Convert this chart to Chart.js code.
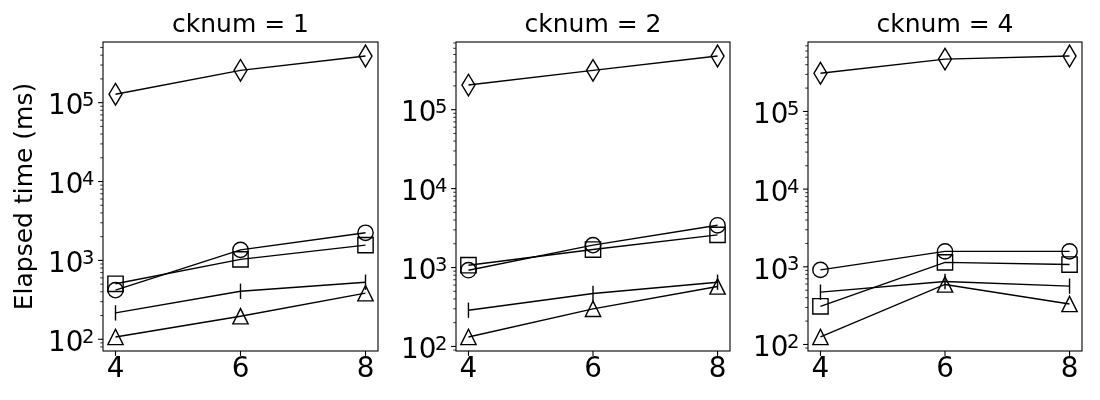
<!DOCTYPE html>
<html>
<head>
<meta charset="utf-8">
<script src="https://cdn.jsdelivr.net/npm/chart.js@4.4.0/dist/chart.umd.min.js"></script>
<style>
  body { margin: 0; background: #fff; }
  #wrap { position: relative; width: 1100px; height: 400px; overflow: hidden; }
  canvas { position: absolute; top: 0; }
</style>
</head>
<body>
<div id="wrap">
  <canvas id="panel0" width="390" height="400" style="left:0px"></canvas>
  <canvas id="panel1" width="350" height="400" style="left:390px"></canvas>
  <canvas id="panel2" width="360" height="400" style="left:740px"></canvas>
</div>
<script>
// Data (one row per panel, values at x = 4, 6, 8)
const panelTitles = ['cknum = 1', 'cknum = 2', 'cknum = 4'];
const xValues = [4, 6, 8];
const diamondSeries = [[128000, 257000, 390000], [205000, 315000, 478000], [310000, 472000, 517000]];
const circleSeries = [[419, 1360, 2240], [925, 1920, 3430], [912, 1580, 1580]];
const squareSeries = [[505, 1030, 1560], [1070, 1690, 2590], [310, 1140, 1070]];
const vlineSeries = [[216, 406, 529], [288, 469, 652], [472, 647, 564]];
const triangleSeries = [[107, 196, 384], [132, 300, 575], [125, 593, 332]];

// Tick labels
const xTickValues = [4, 6, 8];
const yTickValues = [100, 1000, 10000, 100000];
const yTickBase = '10';
const yTickExponents = ['2', '3', '4', '5'];
const yLabel = 'Elapsed time (ms)';

const FONT = "'DejaVu Sans', sans-serif";
Chart.defaults.font.family = FONT;
Chart.defaults.color = '#000';

// width reserved for the y axis and right padding of each canvas
const panelLayout = [
  { axisWidth: 103, padRight: 12 },
  { axisWidth: 66, padRight: 10 },
  { axisWidth: 68, padRight: 18 }
];

// matplotlib-like unfilled markers: thin diamond, circle, square, vline, triangle
const ms = 15.3;
const markerPaths = [
  (g, x, y) => {
    const h = ms * Math.SQRT2 / 2, w = h * 0.6;
    g.moveTo(x, y - h); g.lineTo(x + w, y); g.lineTo(x, y + h); g.lineTo(x - w, y); g.closePath();
  },
  (g, x, y) => { g.moveTo(x + ms / 2, y); g.arc(x, y, ms / 2, 0, Math.PI * 2); },
  (g, x, y) => { g.rect(x - ms / 2, y - ms / 2, ms, ms); },
  (g, x, y) => { g.moveTo(x, y - ms / 2); g.lineTo(x, y + ms / 2); },
  (g, x, y) => {
    g.moveTo(x, y - ms / 2); g.lineTo(x + ms / 2, y + ms / 2); g.lineTo(x - ms / 2, y + ms / 2); g.closePath();
  }
];

const seriesList = [diamondSeries, circleSeries, squareSeries, vlineSeries, triangleSeries];

// markers at the library's point positions, frame, outward ticks, 10^n labels
const axesDecor = {
  id: 'axesDecor',
  afterDatasetsDraw(chart) {
    const { ctx, chartArea: a, scales: { x, y } } = chart;
    ctx.save();
    ctx.strokeStyle = '#000';
    ctx.fillStyle = '#000';

    ctx.lineWidth = 1.4;
    chart.data.datasets.forEach((ds, k) => {
      chart.getDatasetMeta(k).data.forEach(pt => {
        ctx.beginPath();
        markerPaths[k](ctx, pt.x, pt.y);
        ctx.stroke();
      });
    });

    ctx.lineWidth = 1.1;
    ctx.strokeRect(a.left, a.top, a.right - a.left, a.bottom - a.top);
    y.ticks.forEach(t => {
      const lg = Math.log10(t.value);
      const major = Math.abs(lg - Math.round(lg)) < 1e-9;
      const py = y.getPixelForValue(t.value);
      ctx.lineWidth = major ? 1.1 : 0.8;
      ctx.beginPath();
      ctx.moveTo(a.left - (major ? 4.9 : 2.8), py);
      ctx.lineTo(a.left, py);
      ctx.stroke();
    });
    ctx.lineWidth = 1.1;
    x.ticks.forEach(t => {
      const px = x.getPixelForValue(t.value);
      ctx.beginPath();
      ctx.moveTo(px, a.bottom);
      ctx.lineTo(px, a.bottom + 4.9);
      ctx.stroke();
    });

    ctx.textAlign = 'right';
    ctx.textBaseline = 'alphabetic';
    yTickValues.forEach((v, i) => {
      if (v < y.min || v > y.max) return;
      const py = y.getPixelForValue(v);
      const right = a.left - 8.6;
      ctx.font = '19.5px ' + FONT;
      ctx.fillText(yTickExponents[i], right, py + 3.4);
      const w = ctx.measureText(yTickExponents[i]).width;
      ctx.font = '27.8px ' + FONT;
      ctx.fillText(yTickBase, right - w + 1.5, py + 11.7);
    });
    ctx.restore();
  }
};

panelTitles.forEach((title, p) => {
  const all = seriesList.flatMap(s => s[p]);
  const lo = Math.log10(Math.min(...all)), hi = Math.log10(Math.max(...all));
  const pad = (hi - lo) * 0.05;
  const yMin = Math.pow(10, lo - pad), yMax = Math.pow(10, hi + pad);
  const xPad = (xValues[xValues.length - 1] - xValues[0]) * 0.05;

  new Chart(document.getElementById('panel' + p), {
    type: 'line',
    data: {
      datasets: seriesList.map(s => ({
        data: xValues.map((x, j) => ({ x: x, y: s[p][j] })),
        borderColor: '#000',
        borderWidth: 1.4,
        pointRadius: 0,
        fill: false,
        tension: 0
      }))
    },
    options: {
      responsive: false,
      animation: false,
      layout: { autoPadding: false, padding: { left: 0, right: panelLayout[p].padRight, top: 0, bottom: 0 } },
      plugins: {
        legend: { display: false },
        tooltip: { enabled: false },
        title: {
          display: true,
          text: title,
          fullSize: false,
          font: { size: 25, weight: 'normal' },
          padding: { top: 10, bottom: 2 }
        }
      },
      scales: {
        x: {
          type: 'linear',
          min: xValues[0] - xPad,
          max: xValues[xValues.length - 1] + xPad,
          grid: { display: false, drawTicks: false },
          border: { display: false },
          ticks: { font: { size: 27.8 }, padding: 2, autoSkip: false, maxRotation: 0 },
          afterBuildTicks: scale => { scale.ticks = xTickValues.map(v => ({ value: v })); },
          afterFit: scale => { scale.height = 49; }
        },
        y: {
          type: 'logarithmic',
          min: yMin,
          max: yMax,
          grid: { display: false, drawTicks: false },
          border: { display: false },
          title: {
            display: p === 0,
            text: yLabel,
            font: { size: 25 },
            padding: { top: 10, bottom: 0 }
          },
          ticks: { display: false, autoSkip: false },
          afterBuildTicks: scale => {
            const ticks = [];
            for (let e = Math.floor(Math.log10(scale.min)); e <= Math.ceil(Math.log10(scale.max)); e++) {
              for (let m = 1; m <= 9; m++) {
                const v = m * Math.pow(10, e);
                if (v >= scale.min && v <= scale.max) ticks.push({ value: v });
              }
            }
            scale.ticks = ticks;
          },
          afterFit: scale => { scale.width = panelLayout[p].axisWidth; }
        }
      }
    },
    plugins: [axesDecor]
  });
});
</script>
</body>
</html>
